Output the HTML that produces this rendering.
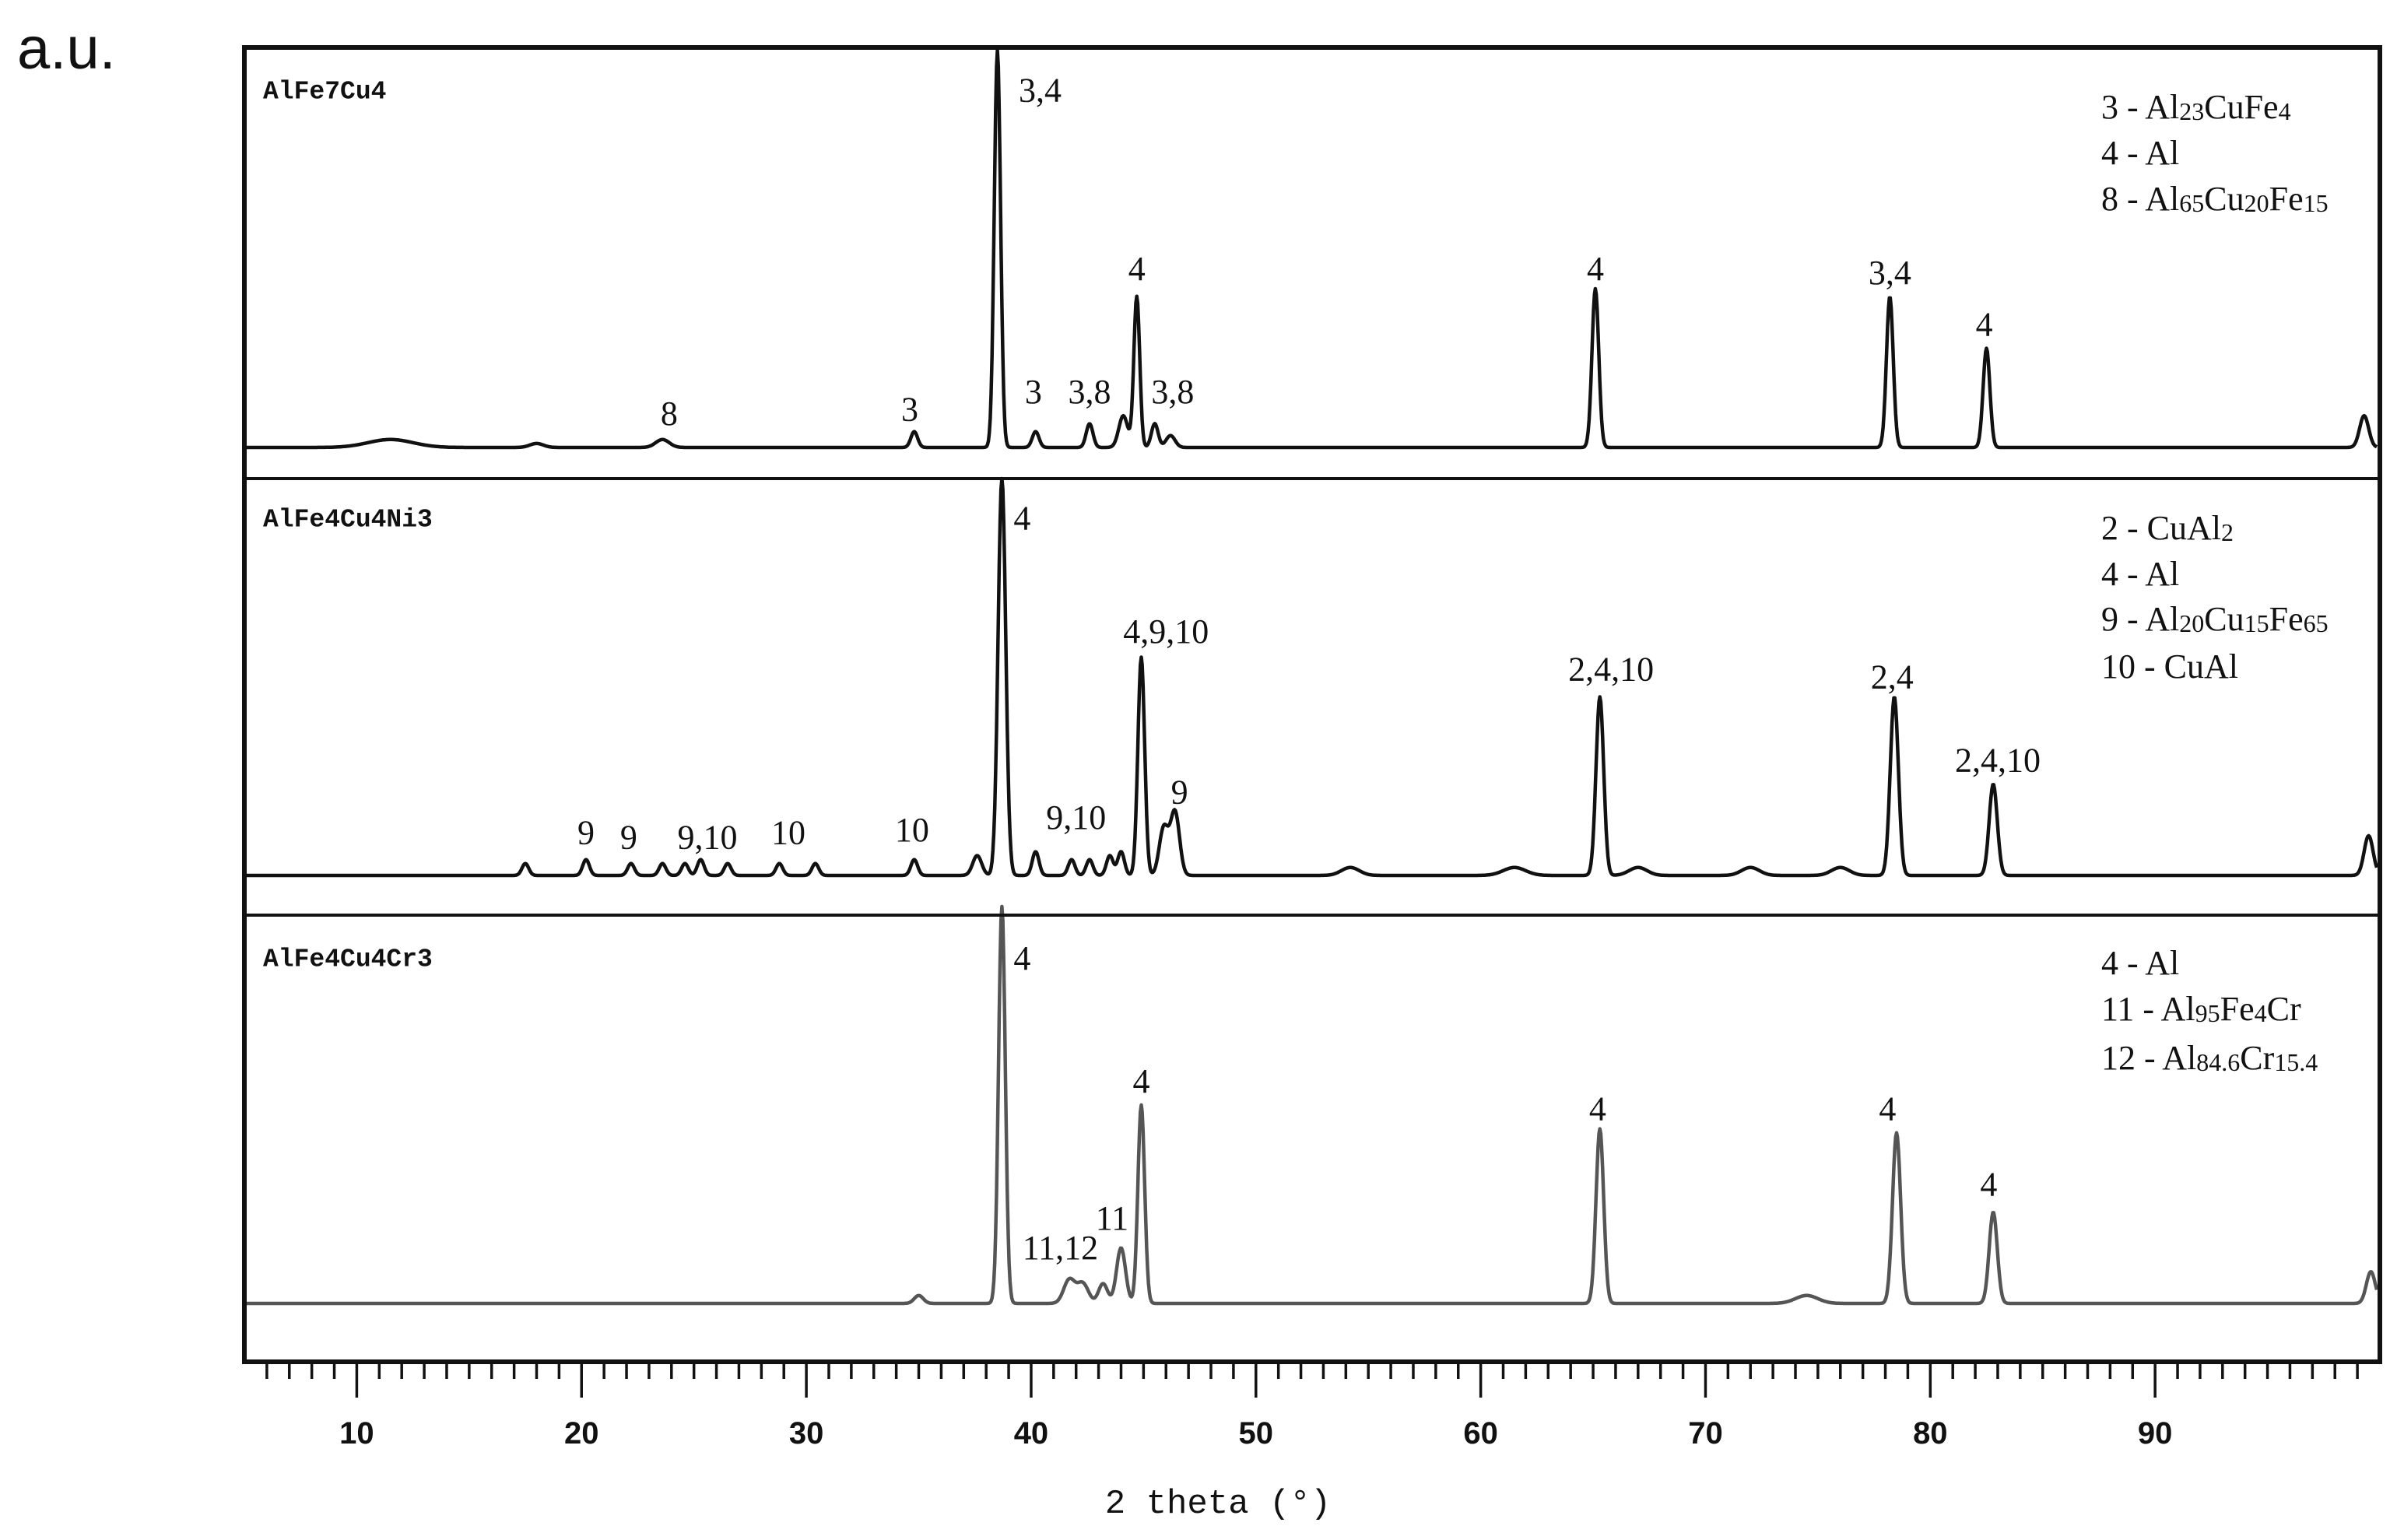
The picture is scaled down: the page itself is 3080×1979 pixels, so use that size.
<!DOCTYPE html>
<html><head><meta charset="utf-8">
<style>
html,body{margin:0;padding:0;background:#fff;}
svg{display:block;}
</style></head>
<body>
<svg id="chart" width="3080" height="1979" viewBox="0 0 3080 1979" xmlns="http://www.w3.org/2000/svg">
<rect x="0" y="0" width="3080" height="1979" fill="#fff"/>
<text x="22" y="88" font-family="Liberation Sans, sans-serif" font-size="76" fill="#111">a.u.</text>
<g id="plots"></g>
<rect x="314" y="61" width="2744" height="1689" fill="none" stroke="#111" stroke-width="6"/>
<line x1="314" y1="615" x2="3058" y2="615" stroke="#111" stroke-width="4"/>
<line x1="314" y1="1176" x2="3058" y2="1176" stroke="#111" stroke-width="4"/>
<g id="xaxis"></g>
<text x="1565" y="1944" text-anchor="middle" font-family="Liberation Mono, monospace" font-size="44" fill="#111">2 theta (°)</text>
</svg>
<script>
// ---- data ----
const xTicks = [10,20,30,40,50,60,70,80,90];
const panelNames = ["AlFe7Cu4","AlFe4Cu4Ni3","AlFe4Cu4Cr3"];
// panel 1 peaks
const p1Pos = [11.5,18.0,23.6,34.8,38.5,40.2,42.6,44.1,44.7,45.5,46.2,65.1,78.2,82.5,99.3];
const p1Hgt = [2,1,2,4,100,4,6,8,38,6,3,40,38,25,8];
const p1Wid = [1.0,0.3,0.3,0.15,0.14,0.15,0.15,0.2,0.13,0.15,0.2,0.15,0.15,0.15,0.2];
// panel 2 peaks
const p2Pos = [17.5,20.2,22.2,23.6,24.6,25.3,26.5,28.8,30.4,34.8,37.6,38.7,40.2,41.8,42.6,43.5,44.0,44.9,45.9,46.4,54.2,61.5,67.0,72.0,76.0,65.3,78.4,82.8,99.5];
const p2Hgt = [3,4,3,3,3,4,3,3,3,4,5,100,6,4,4,5,6,55,12,16,2,2,2,2,2,45,45,23,10];
const p2Wid = [0.15,0.15,0.15,0.15,0.15,0.15,0.15,0.15,0.15,0.15,0.2,0.17,0.15,0.15,0.15,0.15,0.15,0.15,0.2,0.2,0.4,0.5,0.4,0.4,0.4,0.17,0.18,0.18,0.2];
// panel 3 peaks
const p3Pos = [35.0,38.7,41.7,42.3,43.2,44.0,44.9,65.3,74.5,78.5,82.8,99.6];
const p3Hgt = [2,100,6,5,5,14,50,44,2,43,23,8];
const p3Wid = [0.2,0.15,0.25,0.25,0.2,0.2,0.15,0.17,0.5,0.18,0.18,0.2];
// labels
const l1Text = ["3,4","4","4","3,4","4","8","3","3","3,8","3,8"];
const l1Pos  = [40.4,44.7,65.1,78.2,82.4,23.9,34.6,40.1,42.6,46.3];
const l1Hgt  = [90,45,45,44,31,8.5,9.6,14,14,14];
const l2Text = ["4","4,9,10","2,4,10","2,4","2,4,10","9","9","9","9,10","10","10","9,10"];
const l2Pos  = [39.6,46.0,65.8,78.3,83.0,46.6,20.2,22.1,25.6,29.2,34.7,42.0];
const l2Hgt  = [90,61.5,52,50,29,21,10.8,9.6,9.6,10.8,11.5,14.6];
const l3Text = ["4","4","4","4","4","11,12","11"];
const l3Pos  = [39.6,44.9,65.2,78.1,82.6,41.3,43.6];
const l3Hgt  = [87,56,49,49,30,14,21.5];

// ---- layout ----
const X0=314, X1=3058, D0=5, D1=100;
function xs(d){return X0+(d-D0)*(X1-X0)/(D1-D0);}
const panels=[
 {base:575, k:5.1, pos:p1Pos,h:p1Hgt,w:p1Wid, lt:l1Text,lp:l1Pos,lh:l1Hgt, color:"#111"},
 {base:1125,k:5.1, pos:p2Pos,h:p2Hgt,w:p2Wid, lt:l2Text,lp:l2Pos,lh:l2Hgt, color:"#111"},
 {base:1675,k:5.1, pos:p3Pos,h:p3Hgt,w:p3Wid, lt:l3Text,lp:l3Pos,lh:l3Hgt, color:"#555"}
];
const NS="http://www.w3.org/2000/svg";
const g=document.getElementById("plots");
panels.forEach((p,pi)=>{
  const ys=v=>p.base-v*p.k;
  let d="";
  for(let t=D0+0.1;t<=D1-0.1;t+=0.04){
    let v=0;
    for(let i=0;i<p.pos.length;i++){const z=(t-p.pos[i])/p.w[i];v+=p.h[i]*Math.exp(-0.5*z*z);}
    d+=(d?"L":"M")+xs(t).toFixed(1)+","+ys(v).toFixed(1);
  }
  const path=document.createElementNS(NS,"path");
  path.setAttribute("d",d);path.setAttribute("fill","none");
  path.setAttribute("stroke",p.color);path.setAttribute("stroke-width","4.5");
  path.setAttribute("stroke-linejoin","round");
  
  
  g.appendChild(path);
  for(let i=0;i<p.lt.length;i++){
    const t=document.createElementNS(NS,"text");
    t.setAttribute("x",xs(p.lp[i]));t.setAttribute("y",ys(p.lh[i]));
    t.setAttribute("text-anchor","middle");t.setAttribute("dominant-baseline","central");
    t.setAttribute("font-family","Liberation Serif, serif");t.setAttribute("font-size","44");
    t.setAttribute("fill","#111");t.textContent=p.lt[i];
    
    
    g.appendChild(t);
  }
});
// panel titles
const titleY=[118,668,1233];
panelNames.forEach((n,i)=>{
  const t=document.createElementNS(NS,"text");
  t.setAttribute("x",338);t.setAttribute("y",titleY[i]);t.setAttribute("dominant-baseline","central");
  t.setAttribute("font-family","Liberation Mono, monospace");t.setAttribute("font-weight","bold");
  t.setAttribute("font-size","33");t.setAttribute("fill","#111");t.textContent=n;
  
  
  g.appendChild(t);
});
// legends
const legends=[
 {y:[137,196,255], items:[[["3 - Al",0],["23",1],["CuFe",0],["4",1]],[["4 - Al",0]],[["8 - Al",0],["65",1],["Cu",0],["20",1],["Fe",0],["15",1]]]},
 {y:[678,737,795,856], items:[[["2 - CuAl",0],["2",1]],[["4 - Al",0]],[["9 - Al",0],["20",1],["Cu",0],["15",1],["Fe",0],["65",1]],[["10 - CuAl",0]]]},
 {y:[1237,1296,1359], items:[[["4 - Al",0]],[["11 - Al",0],["95",1],["Fe",0],["4",1],["Cr",0]],[["12 - Al",0],["84.6",1],["Cr",0],["15.4",1]]]}
];
legends.forEach(L=>{
  L.items.forEach((it,j)=>{
    const t=document.createElementNS(NS,"text");
    t.setAttribute("x",2700);t.setAttribute("y",L.y[j]);t.setAttribute("dominant-baseline","central");
    t.setAttribute("font-family","Liberation Serif, serif");t.setAttribute("font-size","44");t.setAttribute("fill","#111");
    it.forEach(seg=>{
      const s=document.createElementNS(NS,"tspan");
      s.textContent=seg[0];
      if(seg[1]){s.setAttribute("font-size","32");s.setAttribute("baseline-shift","-6");}
      t.appendChild(s);
    });
    
    
    g.appendChild(t);
  });
});
// x axis ticks
const ax=document.getElementById("xaxis");
for(let dg=6;dg<=99;dg++){
  const major=dg%10===0;
  const l=document.createElementNS(NS,"line");
  l.setAttribute("x1",xs(dg));l.setAttribute("x2",xs(dg));
  l.setAttribute("y1",1750);l.setAttribute("y2",major?1796:1772);
  l.setAttribute("stroke","#111");l.setAttribute("stroke-width","3.5");
  
  
  ax.appendChild(l);
}
xTicks.forEach(v=>{
  const t=document.createElementNS(NS,"text");
  t.setAttribute("x",xs(v));t.setAttribute("y",1842);t.setAttribute("text-anchor","middle");
  t.setAttribute("dominant-baseline","central");
  t.setAttribute("font-family","Liberation Sans, sans-serif");t.setAttribute("font-size","40");
  t.setAttribute("font-weight","600");
  t.setAttribute("fill","#111");t.textContent=v;
  
  
  ax.appendChild(t);
});
</script>
</body></html>
